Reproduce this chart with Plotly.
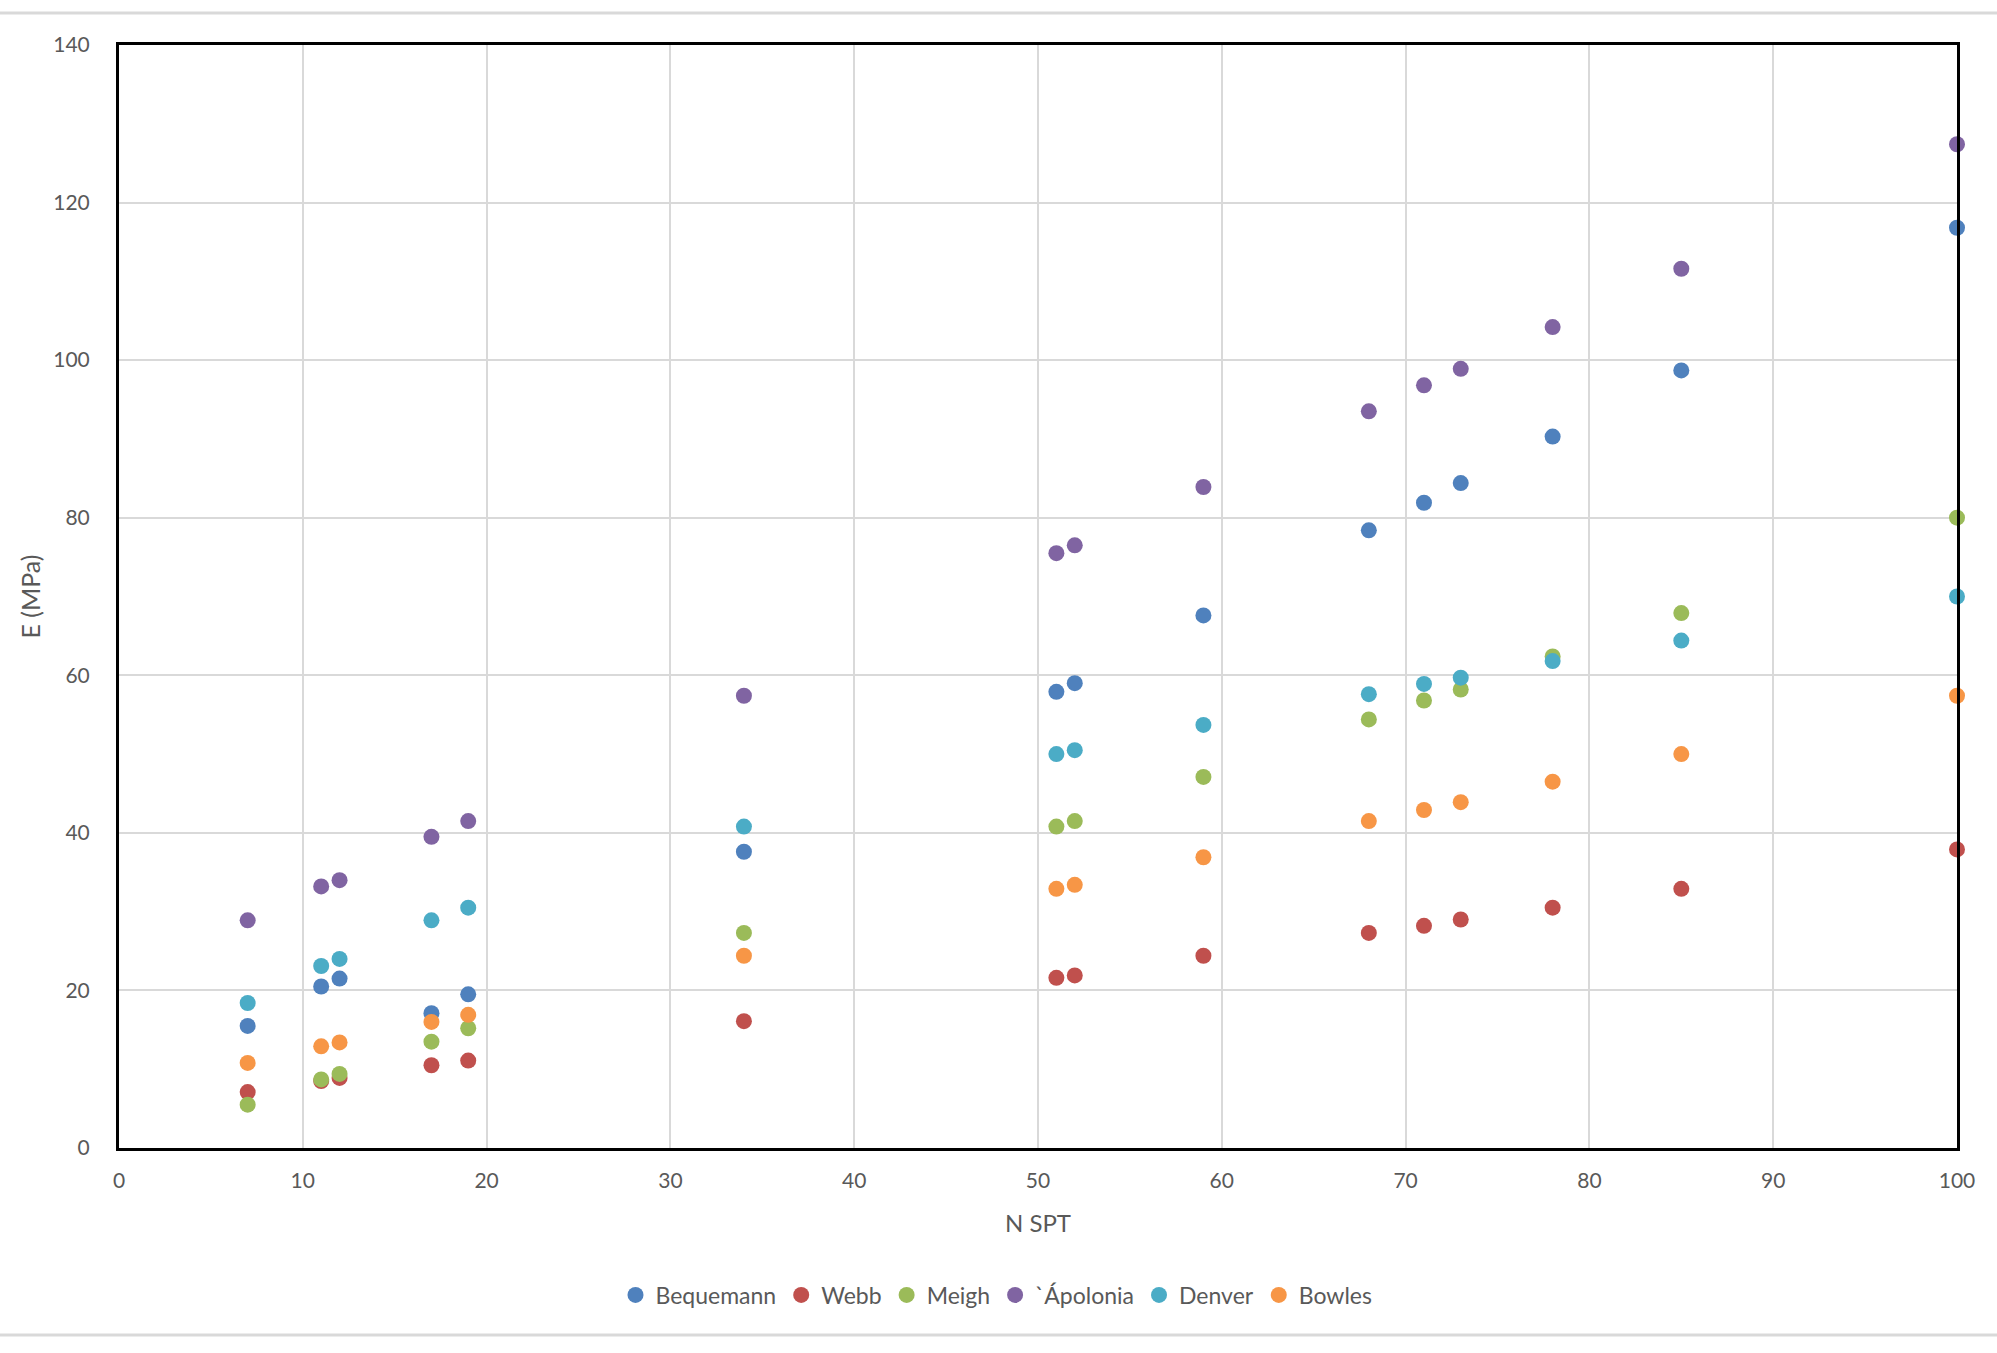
import plotly.graph_objects as go

n_spt = [7, 11, 12, 17, 19, 34, 51, 52, 59, 68, 71, 73, 78, 85, 100]

bequemann = [15.5, 20.5, 21.5, 17.1, 19.5, 37.6, 57.9, 59.0, 67.6, 78.4, 81.9, 84.4, 90.3, 98.7, 116.8]
webb = [7.1, 8.5, 8.9, 10.5, 11.1, 16.1, 21.6, 21.9, 24.4, 27.3, 28.2, 29.0, 30.5, 32.9, 37.9]
meigh = [5.5, 8.7, 9.4, 13.5, 15.2, 27.3, 40.8, 41.5, 47.1, 54.4, 56.8, 58.2, 62.4, 67.9, 80.0]
apolonia = [28.9, 33.2, 34.0, 39.5, 41.5, 57.4, 75.5, 76.5, 83.9, 93.5, 96.8, 98.9, 104.2, 111.6, 127.4]
denver = [18.4, 23.1, 24.0, 28.9, 30.5, 40.8, 50.0, 50.5, 53.7, 57.6, 58.9, 59.7, 61.8, 64.4, 70.0]
bowles = [10.8, 12.9, 13.4, 16.0, 16.9, 24.4, 32.9, 33.4, 36.9, 41.5, 42.9, 43.9, 46.5, 50.0, 57.4]

series_names = ["Bequemann", "Webb", "Meigh", "`Ápolonia", "Denver", "Bowles"]
series_values = [bequemann, webb, meigh, apolonia, denver, bowles]
colors = ["#4F81BD", "#C0504D", "#9BBB59", "#8064A2", "#4BACC6", "#F79646"]

x_ticks = list(range(0, 101, 10))
y_ticks = list(range(0, 141, 20))

FONT = "Lato, 'Open Sans', sans-serif"
GRAY = "#595959"

fig = go.Figure()
for name, vals, col in zip(series_names, series_values, colors):
    fig.add_trace(go.Scatter(
        x=n_spt, y=vals, mode="markers", name=name,
        marker=dict(color=col, size=16, line=dict(width=0)),
        cliponaxis=False,
    ))

W, H = 1997, 1353
L, R, T, B = 119, 1957, 45, 1148

fig.update_layout(
    width=W, height=H,
    margin=dict(l=L, r=W - R, t=T, b=H - B),
    paper_bgcolor="white", plot_bgcolor="white",
    font=dict(family=FONT, color=GRAY, size=21),
    showlegend=True,
    legend=dict(
        orientation="h", xref="container", yref="container",
        x=0.499, xanchor="center", y=1 - 1295 / H, yanchor="middle",
        font=dict(size=23, color=GRAY), itemsizing="trace",
        itemwidth=30, tracegroupgap=0,
    ),
    xaxis=dict(
        range=[0, 100], tickvals=x_ticks, ticktext=[str(v) for v in x_ticks],
        showgrid=True, gridcolor="#D9D9D9", gridwidth=2,
        showline=True, linecolor="black", linewidth=3, mirror=True,
        zeroline=False, ticks="", ticklabelstandoff=12,
        title=dict(text="N SPT", font=dict(size=24, color=GRAY), standoff=24),
    ),
    yaxis=dict(
        range=[0, 140], tickvals=y_ticks, ticktext=[str(v) for v in y_ticks],
        showgrid=True, gridcolor="#D9D9D9", gridwidth=2,
        showline=True, linecolor="black", linewidth=3, mirror=True,
        zeroline=False, ticks="", ticklabelstandoff=22,
        title=dict(text="E (MPa)", font=dict(size=25, color=GRAY), standoff=6),
    ),
)

# page edge lines (top and bottom of the embedded chart frame)
pw = R - L
ph = B - T
for py in (13, 1335):
    fig.add_shape(
        type="line", xref="paper", yref="paper",
        x0=-L / pw, x1=(W - L) / pw,
        y0=(B - py) / ph, y1=(B - py) / ph,
        line=dict(color="#D9D9D9", width=3),
    )

fig.write_html("out.html")
